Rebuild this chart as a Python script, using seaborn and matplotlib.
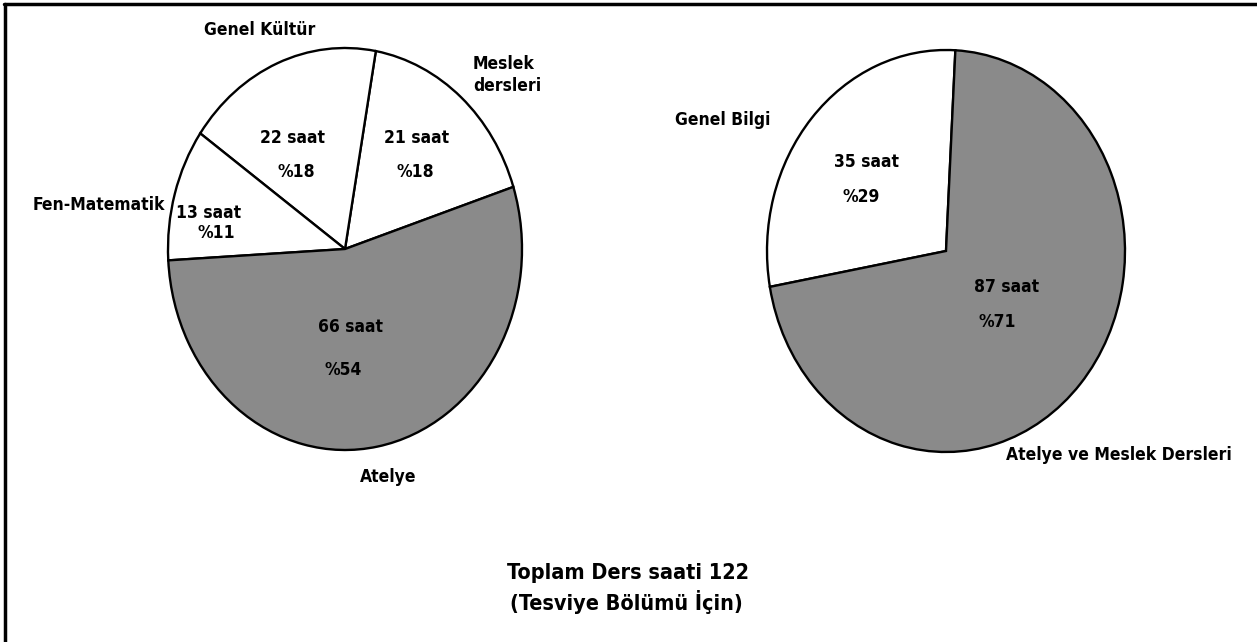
import matplotlib
matplotlib.use("Agg")
import matplotlib.pyplot as plt
import seaborn as sns
from matplotlib.lines import Line2D

# ---- data ----
left_categories = ["Meslek\ndersleri", "Genel Kültür", "Fen-Matematik", "Atelye"]
left_hours = [21, 22, 13, 66]
left_pct_labels = ["%18", "%18", "%11", "%54"]

right_categories = ["Genel Bilgi", "Atelye ve Meslek Dersleri"]
right_hours = [35, 87]
right_pct_labels = ["%29", "%71"]

title_lines = ["Toplam Ders saati 122", "(Tesviye Bölümü İçin)"]

# ---- style ----
sns.set_theme(style="white")
plt.rcParams["font.family"] = ["DejaVu Sans"]
plt.rcParams["font.weight"] = "bold"
plt.rcParams["font.stretch"] = "condensed"

W, H = 1257, 642
fig = plt.figure(figsize=(W / 100, H / 100), dpi=100)
fig.patch.set_facecolor("white")

WHITE = "#ffffff"
GRAY = "#8a8a8a"

def fx(px):
    return px / W

def fy(py):
    return 1 - py / H

def make_axes(cx, cy, rx, ry):
    return fig.add_axes([fx(cx - rx), fy(cy + ry), 2 * rx / W, 2 * ry / H])

def draw_pie(ax, values, colors, start):
    ax.pie(values, colors=colors, startangle=start, counterclock=True,
           radius=1.0, wedgeprops=dict(edgecolor="black", linewidth=1.7))
    ax.set_aspect("auto")
    ax.set_xlim(-1.0, 1.0)
    ax.set_ylim(-1.0, 1.0)
    ax.axis("off")

# left pie
axL = make_axes(345, 249, 177, 201)
draw_pie(axL, left_hours, [WHITE, WHITE, WHITE, GRAY], 18)

# right pie
axR = make_axes(946, 251, 179, 201)
draw_pie(axR, right_hours, [WHITE, GRAY], 87)

FS = 12.5

def t(px, py, s, size=FS, ha="center"):
    fig.text(fx(px), fy(py), s, ha=ha, va="center", fontsize=size,
             fontweight="bold", fontstretch="condensed", color="black",
             linespacing=1.25)

# left pie labels (category names)
left_name_pos = [(473, 75), (260, 30), (99, 205), (388, 477)]
left_name_ha = ["left", "center", "center", "center"]
for (px, py), name, ha in zip(left_name_pos, left_categories, left_name_ha):
    t(px, py, name, ha=ha)

# left pie values (order: Meslek, Genel Kültür, Fen-Matematik, Atelye)
left_hour_pos = [(417, 138), (293, 138), (209, 213), (350, 327)]
left_pct_pos = [(415, 172), (296, 172), (216, 233), (343, 370)]
for (px, py), h in zip(left_hour_pos, left_hours):
    t(px, py, f"{h} saat")
for (px, py), p in zip(left_pct_pos, left_pct_labels):
    t(px, py, p)

# right pie labels
right_name_pos = [(723, 120), (1119, 455)]
for (px, py), name in zip(right_name_pos, right_categories):
    t(px, py, name)
right_hour_pos = [(866, 162), (1007, 287)]
right_pct_pos = [(861, 197), (997, 322)]
for (px, py), h in zip(right_hour_pos, right_hours):
    t(px, py, f"{h} saat")
for (px, py), p in zip(right_pct_pos, right_pct_labels):
    t(px, py, p)

# bottom caption
t(628, 573, title_lines[0], size=15.5)
t(626, 602, title_lines[1], size=15.5)

# frame lines (top and left)
fig.add_artist(Line2D([fx(4), fx(W)], [fy(4), fy(4)], color="black", linewidth=2.5,
                      transform=fig.transFigure))
fig.add_artist(Line2D([fx(5), fx(5)], [fy(4), fy(H)], color="black", linewidth=2.5,
                      transform=fig.transFigure))

fig.savefig("out.png", dpi=100, facecolor="white")
